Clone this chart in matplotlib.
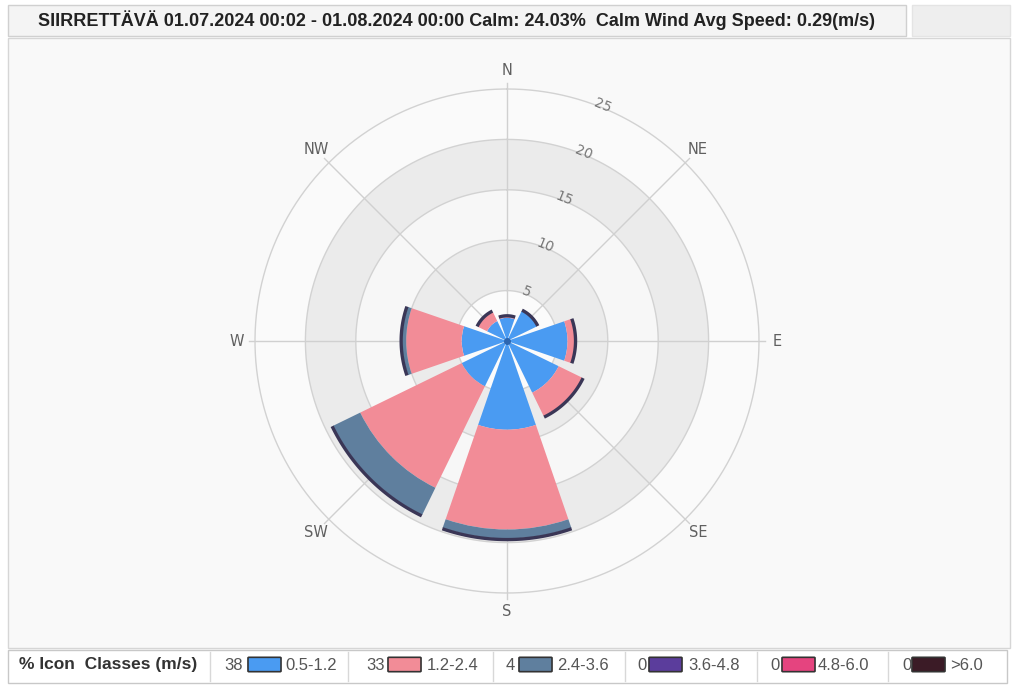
import numpy as np
import matplotlib
matplotlib.use("Agg")
import matplotlib.pyplot as plt
from matplotlib.patches import Rectangle, FancyBboxPatch

# wind rose data (% of time), 8 sectors
directions = ["N", "NE", "E", "SE", "S", "SW", "W", "NW"]
bearings = [0, 45, 90, 135, 180, 225, 270, 315]
speed_05_12 = [2.3, 3.3, 6.0, 5.7, 8.8, 5.0, 4.5, 2.2]
speed_12_24 = [0.1, 0.0, 0.7, 2.6, 9.9, 11.2, 5.5, 1.0]
speed_24_36 = [0.0, 0.0, 0.0, 0.0, 0.9, 3.0, 0.4, 0.0]

class_labels = ["0.5-1.2", "1.2-2.4", "2.4-3.6", "3.6-4.8", "4.8-6.0", ">6.0"]
class_percent = [38, 33, 4, 0, 0, 0]
class_colors = ["#4a9bf2", "#f28c97", "#5f7f9e", "#5b3d9c", "#e5447f", "#3b1b26"]

r_ticks = [5, 10, 15, 20, 25]
title = ("SIIRRETTÄVÄ 01.07.2024 00:02 - 01.08.2024 00:00 Calm: 24.03%  "
         "Calm Wind Avg Speed: 0.29(m/s)")

W, H = 1017, 686
fig = plt.figure(figsize=(W / 100, H / 100), dpi=100)
fig.patch.set_facecolor("white")


def fx(x):
    return x / W


def fy(y):
    return 1 - y / H


def box(x0, y0, x1, y1, fc, ec):
    fig.patches.append(Rectangle((fx(x0), fy(y1)), (x1 - x0) / W, (y1 - y0) / H,
                                 transform=fig.transFigure, facecolor=fc, edgecolor=ec,
                                 lw=1, zorder=-5))


# panels
box(8, 38, 1010, 648, "#f9f9f9", "#d6d6d6")
box(8, 5, 906, 36, "#f4f4f4", "#d0d0d0")
box(912, 5, 1010, 36, "#eeeeee", "#e4e4e4")
box(8, 650, 1007, 683, "white", "#c8c8c8")
fig.text(fx(38), fy(20), title, fontsize=13, fontweight="bold", color="#222222",
         family="Liberation Sans", va="center", ha="left")

# polar axes: centre (507, 341), 10.08 px per percent
scale = 10.08
rmax = 27.5
rad = rmax * scale
ax = fig.add_axes([fx(507 - rad), fy(341 + rad), 2 * rad / W, 2 * rad / H], projection="polar")
ax.set_zorder(2)
ax.set_theta_zero_location("N")
ax.set_theta_direction(-1)
ax.set_ylim(0, rmax)
ax.set_facecolor("none")
ax.spines["polar"].set_visible(False)
ax.grid(False)
ax.set_xticks([])
ax.set_yticks([])

# background bands
band_colors = ["#fbfbfb", "#ebebeb", "#f7f7f7", "#ebebeb", "#fafafa"]
prev = 0
for r, c in zip(r_ticks, band_colors):
    ax.bar(0, r - prev, width=2 * np.pi, bottom=prev, color=c, edgecolor="none", zorder=0)
    prev = r
full = np.linspace(0, 2 * np.pi, 400)
for r in r_ticks:
    ax.plot(full, [r] * len(full), color="#d2d2d2", lw=1, zorder=1)

theta = np.radians(bearings)
for th, name in zip(theta, directions):
    ax.plot([th, th], [0, 25.6], color="#d0d0d0", lw=1, zorder=1)
    ax.text(th, 26.8, name, ha="center", va="center", fontsize=10.5, color="#606060")

for r in r_ticks:
    ax.text(np.radians(22), r + 0.2, str(r), ha="center", va="center", fontsize=10,
            color="#777777", rotation=-22, zorder=5)

# stacked bars
width = np.radians(38)
s1 = np.array(speed_05_12)
s2 = np.array(speed_12_24)
s3 = np.array(speed_24_36)
ax.bar(theta, s1, width=width, bottom=0, color=class_colors[0], edgecolor="none", zorder=3)
ax.bar(theta, s2, width=width, bottom=s1, color=class_colors[1], edgecolor="none", zorder=3)
ax.bar(theta, s3, width=width, bottom=s1 + s2, color=class_colors[2], edgecolor="none", zorder=3)

total = s1 + s2 + s3
for th, t in zip(theta, total):
    arc = np.linspace(th - width / 2, th + width / 2, 40)
    ax.plot(arc, [t + 0.1] * len(arc), color="#3a3656", lw=2.4, zorder=4,
            solid_capstyle="butt")
ax.plot(0, 0, "o", ms=4, color="#2d66b0", zorder=5)

# legend bar
fig.text(fx(19), fy(665), "% Icon  Classes (m/s)", fontsize=12.5, fontweight="bold",
         color="#333333", family="Liberation Sans", va="center")
separators = [210, 348, 493, 625, 757, 888]
num_x = [224, 366, 506, 637, 770, 902]
swatch_x = [249, 389, 520, 650, 783, 913]
label_x = [285, 427, 557, 688, 818, 950]
for sx in separators:
    fig.add_artist(plt.Line2D([fx(sx), fx(sx)], [fy(652), fy(681)], transform=fig.transFigure,
                              color="#d8d8d8", lw=1))
for nx, swx, lx, pct, lab, col in zip(num_x, swatch_x, label_x, class_percent,
                                      class_labels, class_colors):
    fig.text(fx(nx), fy(665), str(pct), fontsize=12, color="#555555",
             family="Liberation Sans", va="center")
    fig.patches.append(FancyBboxPatch((fx(swx), fy(671)), 31 / W, 13 / H,
                                      boxstyle="round,pad=0.001", transform=fig.transFigure,
                                      facecolor=col, edgecolor="#333333", lw=1.2))
    fig.text(fx(lx), fy(665), lab, fontsize=12, color="#555555",
             family="Liberation Sans", va="center")

fig.savefig("out.png", dpi=100)
